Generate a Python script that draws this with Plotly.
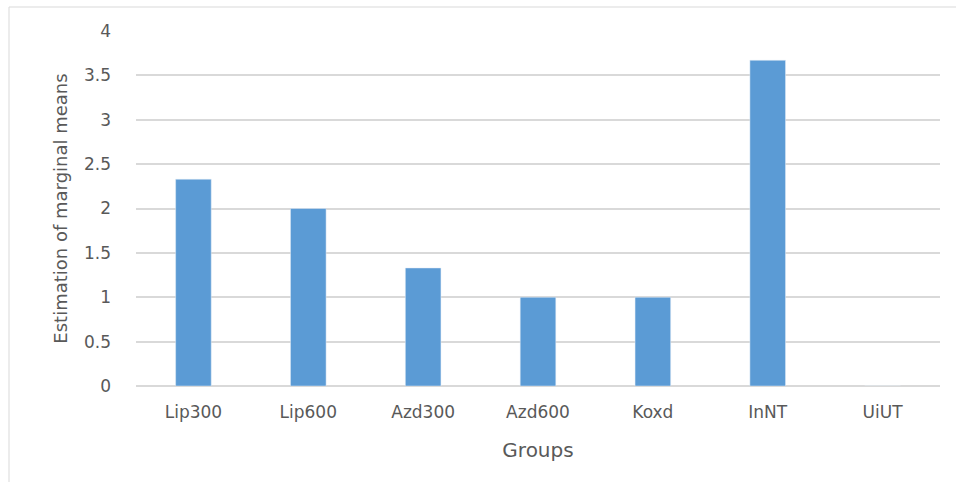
import plotly.graph_objects as go

categories = ["Lip300", "Lip600", "Azd300", "Azd600", "Koxd", "InNT", "UiUT"]
values = [2.33, 2.0, 1.33, 1.0, 1.0, 3.67, 0]
y_ticks = [0, 0.5, 1, 1.5, 2, 2.5, 3, 3.5, 4]
y_tick_text = ["0", "0.5", "1", "1.5", "2", "2.5", "3", "3.5", "4"]

font_family = "DejaVu Sans, sans-serif"
gray = "#595959"

fig = go.Figure(go.Bar(x=categories, y=values, marker_color="#5B9BD5", width=0.31))

L, R, T, B = 136, 16, 31, 96
W, H = 956, 482
pw, ph = W - L - R, H - T - B

fig.update_layout(
    width=W, height=H,
    margin=dict(l=L, r=R, t=T, b=B, autoexpand=False),
    plot_bgcolor="white", paper_bgcolor="white",
    showlegend=False,
    font=dict(family=font_family, color=gray, size=16),
    bargap=0.69,
    shapes=[dict(type="rect", xref="paper", yref="paper",
                 x0=(9 - L) / pw, x1=(970 - L) / pw,
                 y0=-(H + 10 - (H - B)) / ph, y1=1 + (T - 7) / ph,
                 line=dict(color="#D9D9D9", width=1), layer="below")],
)
fig.update_xaxes(
    showgrid=False, showline=False, zeroline=False,
    tickfont=dict(size=17, color=gray), ticklabelstandoff=14,
    title=dict(text="Groups", font=dict(size=20, color=gray), standoff=21),
)
fig.update_yaxes(
    range=[0, 4], tickvals=y_ticks, ticktext=y_tick_text,
    showgrid=True, gridcolor="#D9D9D9", gridwidth=1.5,
    zeroline=True, zerolinecolor="#D9D9D9", zerolinewidth=1.5,
    showline=False, tickfont=dict(size=17, color=gray), ticklabelstandoff=24,
    title=dict(text="Estimation of marginal means", font=dict(size=18, color=gray), standoff=11),
)

fig.write_html("out.html")
